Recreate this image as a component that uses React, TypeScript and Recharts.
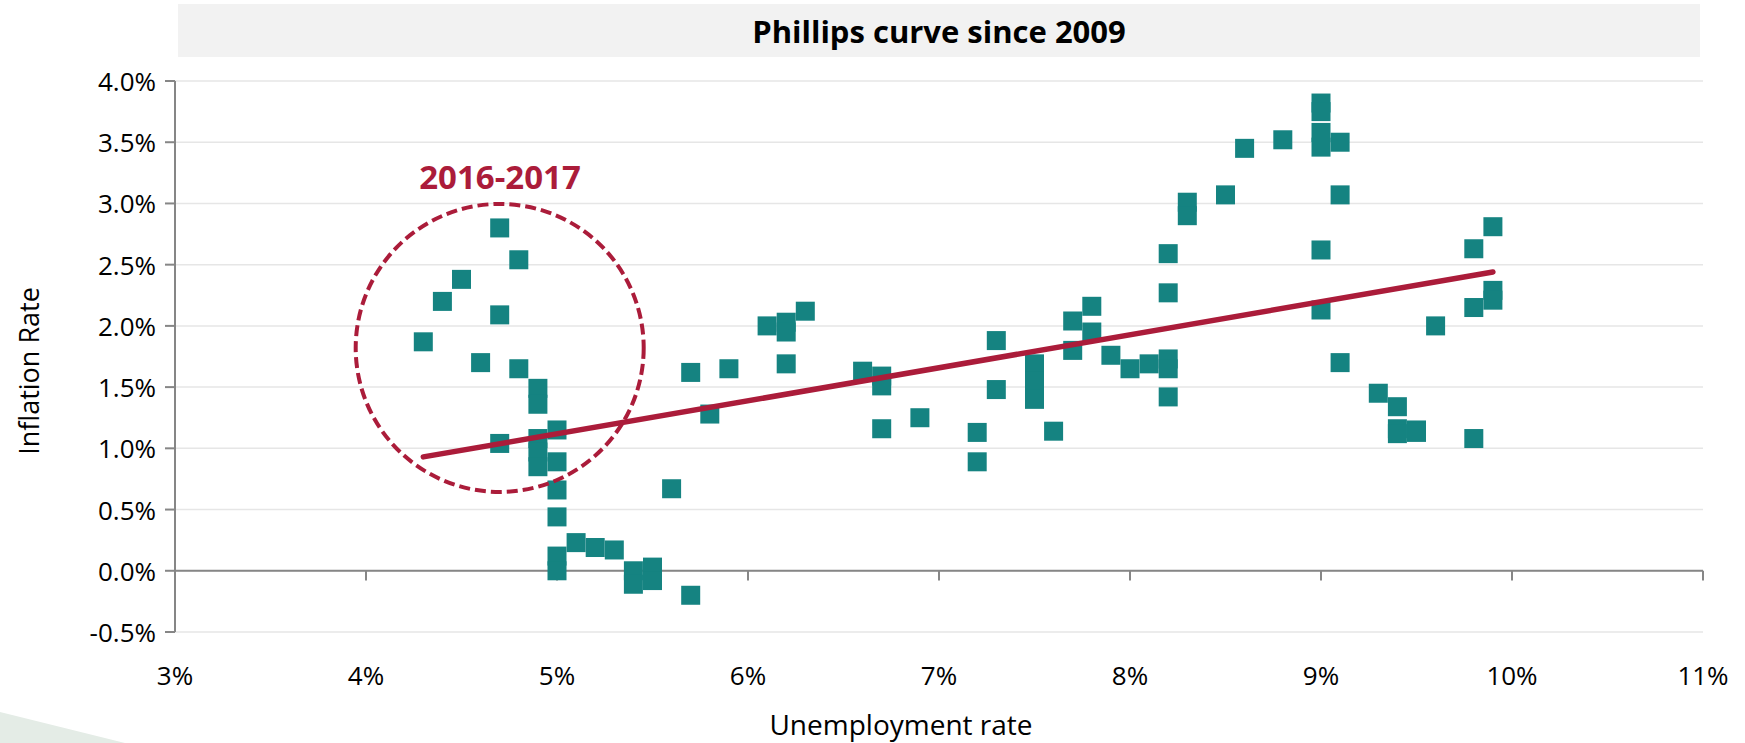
import React from 'react';
import { ScatterChart, Scatter, XAxis, YAxis, CartesianGrid, ReferenceDot, ReferenceLine } from 'recharts';

// Unemployment rate (%) for each observation
const unemploymentRate = [
  4.3, 4.4, 4.5, 4.6,
  4.7, 4.7, 4.7,
  4.8, 4.8,
  4.9, 4.9, 4.9, 4.9, 4.9,
  5.0, 5.0, 5.0, 5.0, 5.0, 5.0,
  5.1, 5.2, 5.3,
  5.4, 5.4, 5.5, 5.5,
  5.6, 5.7, 5.7, 5.8, 5.9,
  6.1, 6.2, 6.2, 6.2, 6.3,
  6.6, 6.7, 6.7, 6.7, 6.9,
  7.2, 7.2, 7.3, 7.3,
  7.5, 7.5, 7.5, 7.6,
  7.7, 7.7, 7.8, 7.8, 7.9, 8.0, 8.1,
  8.2, 8.2, 8.2, 8.2, 8.2,
  8.3, 8.3, 8.5, 8.6, 8.8,
  9.0, 9.0, 9.0, 9.0, 9.0, 9.0,
  9.1, 9.1, 9.1, 9.3,
  9.4, 9.4, 9.4, 9.5, 9.5, 9.6,
  9.8, 9.8, 9.8, 9.9, 9.9, 9.9,
];

// Inflation rate (%) for each observation
const inflationRate = [
  1.87, 2.20, 2.38, 1.70,
  2.80, 2.09, 1.04,
  2.54, 1.65,
  1.49, 1.36, 1.08, 0.97, 0.85,
  1.15, 0.89, 0.66, 0.44, 0.12, 0.00,
  0.23, 0.19, 0.17,
  0.00, -0.11, 0.03, -0.08,
  0.67, 1.62, -0.20, 1.28, 1.65,
  2.00, 2.03, 1.95, 1.69, 2.12,
  1.63, 1.59, 1.51, 1.16, 1.25,
  1.13, 0.89, 1.88, 1.48,
  1.69, 1.55, 1.40, 1.14,
  2.04, 1.80, 2.16, 1.95, 1.76, 1.65, 1.69,
  2.59, 2.27, 1.73, 1.65, 1.42,
  3.01, 2.90, 3.07, 3.45, 3.52,
  3.82, 3.75, 3.58, 3.46, 2.62, 2.13,
  3.50, 3.07, 1.70, 1.45,
  1.34, 1.16, 1.12, 1.15, 1.13, 2.00,
  2.63, 2.15, 1.08, 2.81, 2.29, 2.21,
];

// Linear trend endpoints
const trendUnemployment = [4.3, 9.9];
const trendInflation = [0.93, 2.44];

// Highlight circle (2016-2017)
const highlightCenterX = 4.7;
const highlightCenterY = 1.82;
const highlightLabel = '2016-2017';

const xTicks = [3, 4, 5, 6, 7, 8, 9, 10, 11];
const yTicks = [-0.5, 0, 0.5, 1, 1.5, 2, 2.5, 3, 3.5, 4];

const chartTitle = 'Phillips curve since 2009';
const xTitle = 'Unemployment rate';
const yTitle = 'Inflation Rate';

const points = unemploymentRate.map((x, i) => ({ x, y: inflationRate[i] }));
const trendPoints = trendUnemployment.map((x, i) => ({ x, y: trendInflation[i] }));

const FONT = "'Open Sans', 'Liberation Sans', sans-serif";
const TEAL = '#158381';
const RED = '#ab1c3a';
const AXIS = '#868686';

const SquareMarker = (props: any) => {
  const { cx, cy } = props;
  if (cx == null || cy == null) return <g />;
  return <rect x={cx - 9.5} y={cy - 9.5} width={19} height={19} fill={TEAL} />;
};

const NoMarker = () => <g />;

const XTick = (props: any) => {
  const { x, y, payload } = props;
  return (
    <text x={x} y={y + 43} textAnchor="middle" dominantBaseline="central" fill="#000" fontSize={26} fontFamily={FONT}>
      {`${payload.value}%`}
    </text>
  );
};

const YTick = (props: any) => {
  const { x, y, payload } = props;
  return (
    <text x={x} y={y} textAnchor="end" dominantBaseline="central" fill="#000" fontSize={26} fontFamily={FONT}>
      {`${Number(payload.value).toFixed(1)}%`}
    </text>
  );
};

export default function App() {
  return (
    <div style={{ position: 'fixed', left: 0, top: 0, width: 1745, height: 743, background: '#fff', overflow: 'hidden', fontFamily: FONT }}>
      <svg width={1745} height={743} style={{ position: 'absolute', left: 0, top: 0 }}>
        <polygon points="0,712 125,743 0,743" fill="#e4ece6" />
      </svg>
      <div
        style={{
          position: 'absolute', left: 178, top: 4, width: 1522, height: 53, background: '#f2f2f2',
          display: 'flex', alignItems: 'center', justifyContent: 'center',
          fontWeight: 700, fontSize: 31, color: '#000', fontFamily: FONT,
        }}
      >
        {chartTitle}
      </div>
      <div style={{ position: 'absolute', left: 0, top: 0 }}>
        <ScatterChart width={1745} height={743} margin={{ top: 81, right: 42, bottom: 51, left: 75 }}>
          <CartesianGrid vertical={false} stroke="#e6e6e6" strokeWidth={1.5} />
          <XAxis
            type="number"
            dataKey="x"
            domain={[3, 11]}
            ticks={xTicks}
            allowDataOverflow
            axisLine={false}
            tickLine={false}
            tickSize={0}
            tickMargin={0}
            height={60}
            tick={<XTick />}
          />
          <YAxis
            type="number"
            dataKey="y"
            domain={[-0.5, 4]}
            ticks={yTicks}
            allowDataOverflow
            width={100}
            axisLine={{ stroke: AXIS, strokeWidth: 2 }}
            tickLine={{ stroke: AXIS, strokeWidth: 2 }}
            tickSize={10}
            tickMargin={9}
            tick={<YTick />}
          />
          <ReferenceLine y={0} stroke={AXIS} strokeWidth={2} />
          {xTicks.map((t) => (
            <ReferenceLine
              key={`xt-${t}`}
              segment={[{ x: t, y: 0 }, { x: t, y: -0.08 }]}
              stroke={AXIS}
              strokeWidth={2}
            />
          ))}
          <Scatter data={points} shape={<SquareMarker />} isAnimationActive={false} />
          <Scatter
            data={trendPoints}
            shape={<NoMarker />}
            line={{ stroke: RED, strokeWidth: 5.5, strokeLinecap: 'round' }}
            isAnimationActive={false}
          />
          <ReferenceDot
            x={highlightCenterX}
            y={highlightCenterY}
            r={144}
            fill="none"
            stroke={RED}
            strokeWidth={4}
            strokeDasharray="11 5"
            ifOverflow="visible"
          />
        </ScatterChart>
      </div>
      <div
        style={{
          position: 'absolute', left: 500, top: 176, transform: 'translate(-50%, -50%)',
          fontWeight: 700, fontSize: 33, lineHeight: 1, color: RED, fontFamily: FONT, whiteSpace: 'nowrap',
        }}
      >
        {highlightLabel}
      </div>
      <div
        style={{
          position: 'absolute', left: 901, top: 724, transform: 'translate(-50%, -50%)',
          fontSize: 28, lineHeight: 1, color: '#000', fontFamily: FONT, whiteSpace: 'nowrap',
        }}
      >
        {xTitle}
      </div>
      <div
        style={{
          position: 'absolute', left: 28, top: 371, transform: 'translate(-50%, -50%) rotate(-90deg)',
          fontSize: 27, lineHeight: 1, color: '#000', fontFamily: FONT, whiteSpace: 'nowrap',
        }}
      >
        {yTitle}
      </div>
    </div>
  );
}
